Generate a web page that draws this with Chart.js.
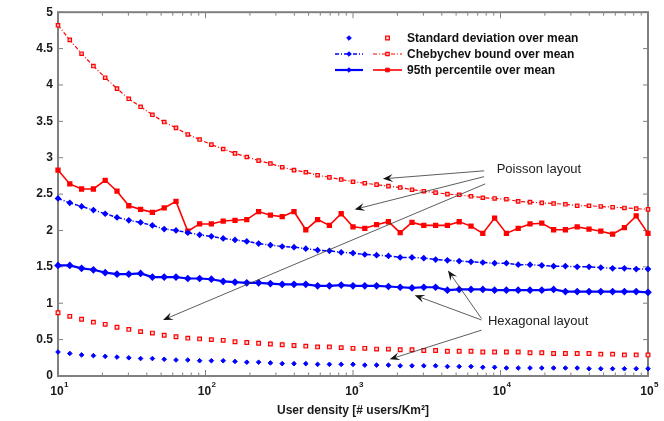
<!DOCTYPE html>
<html>
<head>
<meta charset="utf-8">
<script src="https://cdn.jsdelivr.net/npm/chart.js@4.4.1/dist/chart.umd.min.js"></script>
<style>
  html, body { margin: 0; padding: 0; background: #fff; }
  #wrap { width: 664px; height: 421px; }
</style>
</head>
<body>
<div id="wrap"><canvas id="chLog" width="664" height="421"></canvas></div>
<script>
// user density samples [# users / km^2]
const densities = [10, 12.02, 14.45, 17.38, 20.89, 25.12, 30.2, 36.31, 43.65, 52.48, 63.1, 75.86, 91.2,
  109.6, 131.8, 158.5, 190.5, 229.1, 275.4, 331.1, 398.1, 478.6, 575.4, 691.8, 831.8, 1000,
  1202, 1445, 1738, 2089, 2512, 3020, 3631, 4365, 5248, 6310, 7586, 9120,
  10965, 13183, 15849, 19055, 22909, 27542, 33113, 39811, 47863, 57544, 69183, 83176, 100000];

// hexagonal layout (blue)
const hexStd = [0.33, 0.31, 0.29, 0.28, 0.27, 0.26, 0.25, 0.24, 0.24, 0.23, 0.22, 0.22, 0.21,
  0.21, 0.21, 0.20, 0.19, 0.19, 0.18, 0.17, 0.17, 0.17, 0.16, 0.16, 0.16, 0.16,
  0.15, 0.15, 0.15, 0.14, 0.14, 0.14, 0.14, 0.13, 0.13, 0.13, 0.12, 0.12,
  0.11, 0.11, 0.11, 0.11, 0.11, 0.11, 0.11, 0.10, 0.10, 0.10, 0.10, 0.10, 0.10];
const hexCheb = [2.44, 2.38, 2.33, 2.28, 2.23, 2.18, 2.14, 2.11, 2.07, 2.02, 2.00, 1.97, 1.94,
  1.92, 1.89, 1.87, 1.85, 1.82, 1.80, 1.78, 1.77, 1.75, 1.73, 1.72, 1.70, 1.69,
  1.67, 1.66, 1.65, 1.63, 1.63, 1.62, 1.60, 1.59, 1.58, 1.57, 1.56, 1.55,
  1.55, 1.53, 1.53, 1.52, 1.51, 1.51, 1.50, 1.50, 1.49, 1.48, 1.48, 1.47, 1.47];
const hexP95 = [1.52, 1.52, 1.48, 1.46, 1.42, 1.40, 1.40, 1.41, 1.36, 1.36, 1.36, 1.34, 1.34,
  1.33, 1.30, 1.29, 1.28, 1.28, 1.27, 1.26, 1.26, 1.26, 1.24, 1.24, 1.25, 1.24,
  1.24, 1.24, 1.23, 1.22, 1.21, 1.22, 1.22, 1.18, 1.19, 1.19, 1.19, 1.18,
  1.18, 1.18, 1.18, 1.18, 1.19, 1.16, 1.16, 1.16, 1.16, 1.16, 1.16, 1.16, 1.15];

// poisson layout (red)
const poiStd = [0.87, 0.82, 0.78, 0.74, 0.71, 0.67, 0.64, 0.61, 0.59, 0.56, 0.54, 0.52, 0.51,
  0.50, 0.49, 0.47, 0.46, 0.45, 0.44, 0.43, 0.42, 0.41, 0.40, 0.40, 0.39, 0.38,
  0.38, 0.37, 0.37, 0.36, 0.36, 0.35, 0.35, 0.34, 0.34, 0.34, 0.33, 0.33,
  0.33, 0.33, 0.32, 0.32, 0.31, 0.31, 0.31, 0.31, 0.30, 0.30, 0.29, 0.29, 0.29];
const poiCheb = [4.82, 4.62, 4.43, 4.26, 4.10, 3.95, 3.81, 3.70, 3.59, 3.49, 3.41, 3.32, 3.25,
  3.18, 3.12, 3.06, 3.01, 2.96, 2.92, 2.87, 2.83, 2.80, 2.76, 2.73, 2.70, 2.67,
  2.65, 2.63, 2.61, 2.59, 2.56, 2.54, 2.52, 2.50, 2.49, 2.47, 2.45, 2.44,
  2.43, 2.40, 2.39, 2.38, 2.37, 2.36, 2.34, 2.34, 2.33, 2.32, 2.31, 2.30, 2.29];
const poiP95 = [2.83, 2.64, 2.57, 2.57, 2.69, 2.54, 2.34, 2.29, 2.25, 2.31, 2.40, 1.99, 2.09,
  2.09, 2.13, 2.14, 2.15, 2.26, 2.21, 2.19, 2.26, 2.01, 2.15, 2.07, 2.23, 2.05,
  2.03, 2.08, 2.12, 1.97, 2.11, 2.07, 2.07, 2.07, 2.12, 2.06, 1.96, 2.17,
  1.96, 2.03, 2.09, 2.10, 2.01, 2.01, 2.05, 2.02, 1.99, 1.95, 2.04, 2.20, 1.96];

const xDecades = [1, 2, 3, 4, 5];
const legendLabels = ['Standard deviation over mean', 'Chebychev bound over mean', '95th percentile over mean'];

// annotations, in data units: [tailX, tailY, headX, headY]
const poissonArrows = [[7745, 2.82, 1596, 2.71], [7745, 2.74, 1027, 2.29], [7870, 2.64, 51.5, 0.77]];
const hexArrows = [[7430, 0.79, 4406, 1.45], [7430, 0.77, 2620, 1.11], [7430, 0.63, 1774, 0.23]];
const noteLabels = [['Poisson layout', 9419, 2.84], ['Hexagonal layout', 8222, 0.75]];

const BLUE = '#0000ff', RED = '#ff0000';
const FONT = "Arial, 'Liberation Sans', sans-serif";
const dashDot = [4, 2, 1, 2];

function pts(arr) {
  return arr.map(function(v, i) { return {x: densities[i], y: v}; });
}

var chLog = document.getElementById('chLog');

const frame = {
  id: 'frame',
  beforeDatasetsDraw(chart) {
    const ctx = chart.ctx, ca = chart.chartArea;
    const xs = chart.scales.x, ys = chart.scales.y;
    ctx.save();
    ctx.strokeStyle = '#808080';
    ctx.lineWidth = 1;
    ctx.beginPath();
    for (let d = 1; d <= 4; d++) {
      for (let m = 1; m < 10; m++) {
        const px = xs.getPixelForValue(m * Math.pow(10, d));
        const len = m === 1 ? 6 : 3.5;
        ctx.moveTo(px, ca.bottom); ctx.lineTo(px, ca.bottom - len);
        ctx.moveTo(px, ca.top); ctx.lineTo(px, ca.top + len);
      }
    }
    for (let v = 0; v <= 5; v += 0.5) {
      const py = ys.getPixelForValue(v);
      ctx.moveTo(ca.left, py); ctx.lineTo(ca.left + 5, py);
      ctx.moveTo(ca.right, py); ctx.lineTo(ca.right - 5, py);
    }
    ctx.stroke();
    ctx.lineWidth = 2;
    ctx.strokeRect(ca.left, ca.top, ca.right - ca.left, ca.bottom - ca.top);
    ctx.restore();
  },
  afterDraw(chart) {
    const ctx = chart.ctx;
    const xs = chart.scales.x, ys = chart.scales.y;
    ctx.save();
    // x tick labels 10^n
    ctx.fillStyle = '#1a1a1a';
    xDecades.forEach(function(d) {
      const px = xs.getPixelForValue(Math.pow(10, d));
      ctx.font = 'bold 12px ' + FONT;
      ctx.textAlign = 'center';
      ctx.textBaseline = 'alphabetic';
      ctx.fillText('10', px - 1, 395);
      ctx.font = 'bold 8px ' + FONT;
      ctx.textAlign = 'left';
      ctx.fillText(String(d), px + 6, 387);
    });

    // legend, two samples (hex, poisson) per row
    const rows = [38, 54, 70];
    const ds = chart.data.datasets;
    for (let r = 0; r < 3; r++) {
      const y = rows[r];
      const b = ds[r * 2], rd = ds[r * 2 + 1];
      [[b, 335, 363, 349], [rd, 373, 402, 387.5]].forEach(function(s) {
        const set = s[0];
        if (set.showLine !== false) {
          ctx.beginPath();
          ctx.strokeStyle = set.borderColor;
          ctx.lineWidth = set.borderWidth;
          ctx.setLineDash(set.borderDash || []);
          ctx.moveTo(s[1], y); ctx.lineTo(s[2], y);
          ctx.stroke();
          ctx.setLineDash([]);
        }
        ctx.fillStyle = set.pointBackgroundColor;
        ctx.strokeStyle = set.pointBorderColor;
        ctx.lineWidth = set.pointBorderWidth || 1;
        ctx.beginPath();
        if (set.pointStyle === 'rect') {
          const h = set.pointRadius * Math.SQRT1_2;
          ctx.rect(s[3] - h, y - h, 2 * h, 2 * h);
        } else {
          const h = set.pointRadius;
          ctx.moveTo(s[3], y - h); ctx.lineTo(s[3] + h, y); ctx.lineTo(s[3], y + h); ctx.lineTo(s[3] - h, y);
          ctx.closePath();
        }
        ctx.fill(); ctx.stroke();
      });
      ctx.fillStyle = '#111';
      ctx.font = 'bold 12px ' + FONT;
      ctx.textAlign = 'left';
      ctx.textBaseline = 'middle';
      ctx.fillText(legendLabels[r], 407, y + 1);
    }

    // annotation arrows
    function arrow(a) {
      const x1 = xs.getPixelForValue(a[0]), y1 = ys.getPixelForValue(a[1]);
      const x2 = xs.getPixelForValue(a[2]), y2 = ys.getPixelForValue(a[3]);
      const ang = Math.atan2(y2 - y1, x2 - x1);
      const c = Math.cos(ang), s = Math.sin(ang);
      ctx.strokeStyle = '#333';
      ctx.lineWidth = 0.8;
      ctx.beginPath();
      ctx.moveTo(x1, y1); ctx.lineTo(x2 - 5 * c, y2 - 5 * s);
      ctx.stroke();
      const L = 10, W = 4;
      ctx.fillStyle = '#111';
      ctx.beginPath();
      ctx.moveTo(x2, y2);
      ctx.lineTo(x2 - L * c - W * s, y2 - L * s + W * c);
      ctx.lineTo(x2 - 6 * c, y2 - 6 * s);
      ctx.lineTo(x2 - L * c + W * s, y2 - L * s - W * c);
      ctx.closePath();
      ctx.fill();
    }
    poissonArrows.forEach(arrow);
    hexArrows.forEach(arrow);

    ctx.fillStyle = '#222';
    ctx.font = '13px ' + FONT;
    ctx.textAlign = 'left';
    ctx.textBaseline = 'middle';
    noteLabels.forEach(function(n) {
      ctx.fillText(n[0], xs.getPixelForValue(n[1]), ys.getPixelForValue(n[2]));
    });
    ctx.restore();
  }
};

if (chLog) {
  new Chart(chLog, {
    type: 'line',
    data: {
      datasets: [{
        label: 'hex std',
        data: pts(hexStd),
        showLine: false,
        pointStyle: 'rectRot', pointRadius: 2.3,
        pointBackgroundColor: BLUE, pointBorderColor: BLUE, borderColor: BLUE
      }, {
        label: 'poisson std',
        data: pts(poiStd),
        showLine: false,
        pointStyle: 'rect', pointRadius: 2.6,
        pointBackgroundColor: '#ffd8d8', pointBorderColor: RED, borderColor: RED, pointBorderWidth: 1.2
      }, {
        label: 'hex chebychev',
        data: pts(hexCheb),
        borderColor: BLUE, borderWidth: 1.5, borderDash: dashDot,
        pointStyle: 'rectRot', pointRadius: 2.3,
        pointBackgroundColor: BLUE, pointBorderColor: BLUE
      }, {
        label: 'poisson chebychev',
        data: pts(poiCheb),
        borderColor: RED, borderWidth: 1.2, borderDash: dashDot,
        pointStyle: 'rect', pointRadius: 2.4,
        pointBackgroundColor: '#ffb8b8', pointBorderColor: RED, pointBorderWidth: 1.2
      }, {
        label: 'hex 95th',
        data: pts(hexP95),
        borderColor: BLUE, borderWidth: 2.2,
        pointStyle: 'rectRot', pointRadius: 2.3,
        pointBackgroundColor: BLUE, pointBorderColor: BLUE
      }, {
        label: 'poisson 95th',
        data: pts(poiP95),
        borderColor: RED, borderWidth: 1.6,
        pointStyle: 'rect', pointRadius: 2.6,
        pointBackgroundColor: RED, pointBorderColor: RED
      }]
    },
    options: {
      responsive: false,
      animation: false,
      clip: false,
      layout: { padding: { left: 0, right: 16, top: 11, bottom: 0 } },
      elements: { line: { tension: 0, fill: false } },
      plugins: {
        legend: { display: false },
        tooltip: { enabled: false }
      },
      scales: {
        x: {
          type: 'logarithmic',
          min: 10,
          max: 100000,
          grid: { display: false },
          border: { display: false },
          ticks: { display: false },
          title: {
            display: true,
            text: 'User density [# users/Km²]',
            color: '#1a1a1a',
            font: { family: FONT, size: 12, weight: 'bold' },
            padding: { top: 0, bottom: 3 }
          },
          afterFit: function(scale) { scale.height = 45; }
        },
        y: {
          min: 0,
          max: 5,
          grid: { display: false, drawTicks: false },
          border: { display: false },
          ticks: {
            stepSize: 0.5,
            padding: 5,
            color: '#1a1a1a',
            font: { family: FONT, size: 12, weight: 'bold' },
            callback: function(v) { return String(+v.toFixed(1)); }
          },
          afterFit: function(scale) { scale.width = 58; }
        }
      }
    },
    plugins: [frame]
  });
}
</script>
</body>
</html>
